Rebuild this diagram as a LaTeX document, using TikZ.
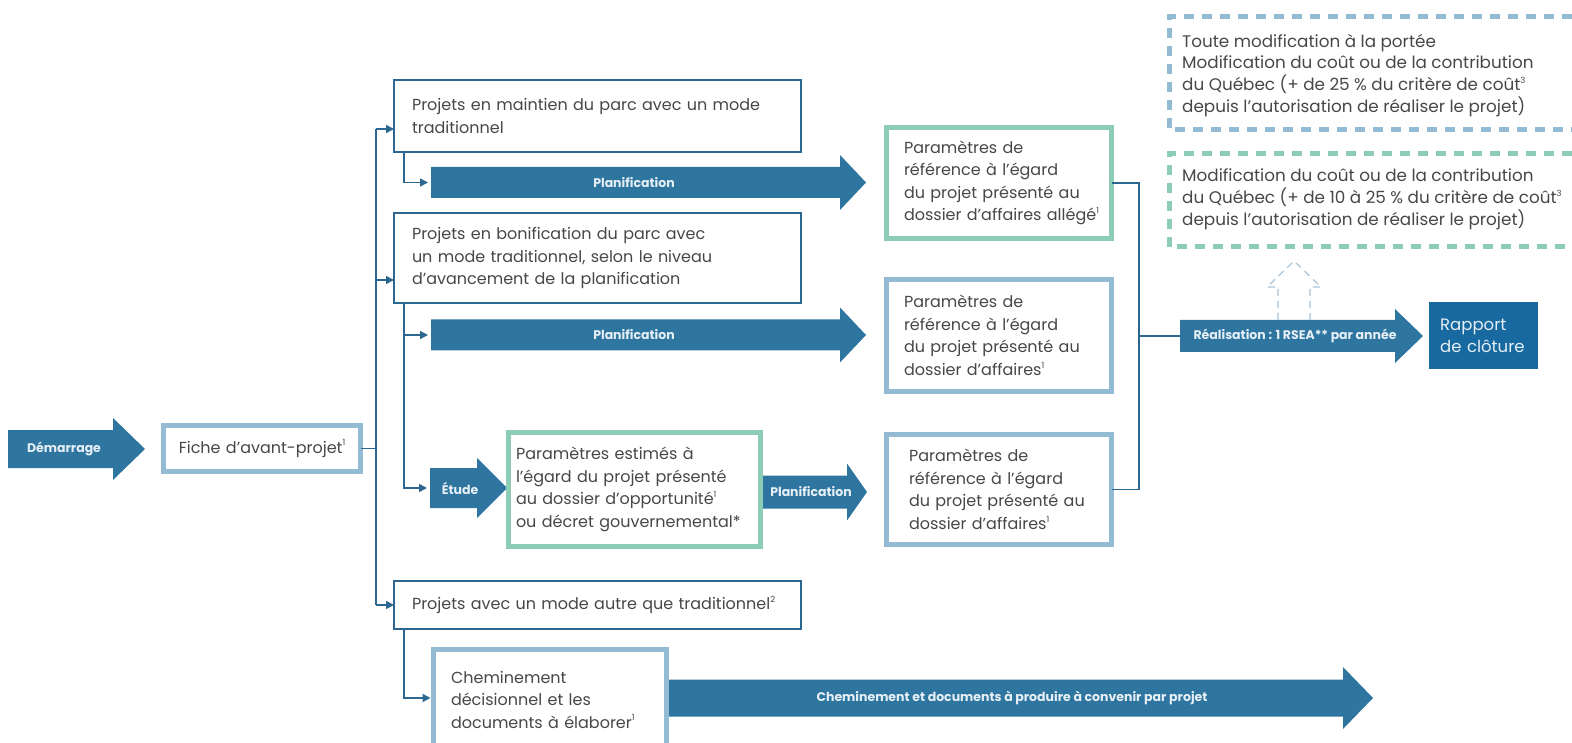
\documentclass[tikz,border=0pt]{standalone}
\usepackage{fontspec}
\setmainfont{Poppins}
\usetikzlibrary{arrows.meta,calc}
\definecolor{arrowblue}{HTML}{2E75A0}
\definecolor{darkbox}{HTML}{17699F}
\definecolor{lineblue}{HTML}{2C6792}
\definecolor{lightblue}{HTML}{93BBD4}
\definecolor{mint}{HTML}{8DCDB5}
\definecolor{txt}{HTML}{474747}
\definecolor{lbl}{HTML}{E6EFF5}
\definecolor{dashup}{HTML}{A9C5DA}
\newcommand{\boxfont}{\fontsize{16}{22.5}\selectfont}
\newcommand{\notefont}{\fontsize{16.8}{21.8}\selectfont}
\newcommand{\lblfont}{\fontsize{12.5}{14}\selectfont\bfseries}
\newcommand{\sups}[1]{\raisebox{0.45em}{\fontsize{8.5}{8.5}\selectfont #1}}
\newcommand{\BigArrow}[9]{%
  \fill[arrowblue] (#2,#5-#6) -- (#3,#5-#6) -- (#3,#5-#7) -- (#4,#5) -- (#3,#5+#7) -- (#3,#5+#6) -- (#2,#5+#6) -- cycle;
  \coordinate (#1-tail) at (#2,#5);
  \coordinate (#1-tip) at (#4,#5);
  \node[arrlabel] (#1) at (#8,#5) {#9};}
\tikzset{
  arrlabel/.style={text=lbl, font=\lblfont, inner sep=0pt},
  conn/.style={draw=lineblue, line width=1.5pt},
  tri/.style={-{Triangle[length=8pt,width=8pt]}},
  thinbox/.style={draw=lineblue, line width=1.3pt, fill=white, anchor=north west, outer sep=0pt,
    inner ysep=0pt, text=txt, font=\boxfont, align=left},
  bluebox/.style={draw=lightblue, line width=5pt, fill=white, anchor=north west, outer sep=0pt,
    inner ysep=0pt, text=txt, font=\boxfont, align=left},
  mintbox/.style={bluebox, draw=mint},
  dashbox/.style={line width=5pt, dash pattern=on 10pt off 8pt},
}
\begin{document}
\begin{tikzpicture}[x=1pt,y=-1pt]
\useasboundingbox (0,0) rectangle (1572,743);
\clip (0,0) rectangle (1572,743);

% big arrows
\BigArrow{dem}{8}{113}{145}{449}{19}{31}{64}{Démarrage}
\BigArrow{p1}{431}{840}{866}{182.5}{15.5}{27.5}{634}{Planification}
\BigArrow{p2}{431}{840}{866}{335}{15.5}{27.5}{634}{Planification}
\BigArrow{etu}{430}{477}{507}{488}{20}{30}{460}{Étude}
\BigArrow{p3}{763}{847}{867}{492}{16.5}{28.5}{811}{Planification}
\BigArrow{real}{1180}{1395}{1423}{336}{16}{27}{1295}{Réalisation : 1 RSEA** par année}
\BigArrow{chem}{669}{1343}{1373}{698}{18.5}{31}{1012}{Cheminement et documents à produire à convenir par projet}

% boxes
\node[bluebox, align=center, minimum width=197pt, minimum height=46pt, text width=185pt, inner xsep=6pt]
  (fiche) at (163.5,425.5) {Fiche d’avant-projet\sups{1}};
\node[thinbox, minimum width=407pt, minimum height=72pt, text width=371pt, inner xsep=18pt]
  (box1) at (394,80) {Projets en maintien du parc avec un mode\\traditionnel};
\node[thinbox, minimum width=407pt, minimum height=90pt, text width=371pt, inner xsep=18pt]
  (box2) at (394,213) {Projets en bonification du parc avec\\un mode traditionnel, selon le niveau\\d’avancement de la planification};
\node[thinbox, minimum width=407pt, minimum height=48pt, text width=371pt, inner xsep=18pt]
  (box3) at (394,581) {Projets avec un mode autre que traditionnel\sups{2}};
\node[mintbox, minimum width=252pt, minimum height=114pt, text width=237pt, inner xsep=7.5pt]
  (est) at (508.5,432.5) {Paramètres estimés à\\l’égard du projet présenté\\au dossier d’opportunité\sups{1}\\ou décret gouvernemental*};
\node[mintbox, minimum width=225pt, minimum height=111pt, text width=190pt, inner xsep=17.5pt]
  (pa) at (886.5,127.5) {Paramètres de\\référence à l’égard\\du projet présenté au\\dossier~d’affaires~allégé\sups{1}};
\node[bluebox, minimum width=225pt, minimum height=112pt, text width=190pt, inner xsep=17.5pt]
  (pb) at (886.5,279.5) {Paramètres de\\référence à l’égard\\du projet présenté au\\dossier d’affaires\sups{1}};
\node[bluebox, minimum width=225pt, minimum height=110pt, text width=180pt, inner xsep=22.5pt]
  (pc) at (886.5,434.5) {Paramètres de\\référence à l’égard\\du~projet~présenté~au\\dossier d’affaires\sups{1}};
\node[bluebox, minimum width=233pt, minimum height=100pt, text width=198pt, inner xsep=17.5pt]
  (chm) at (433.5,649.5) {Cheminement\\décisionnel et les\\documents à élaborer\sups{1}};
\node[fill=darkbox, anchor=north west, minimum width=109pt, minimum height=67pt, text width=87pt,
  inner xsep=11pt, inner ysep=0pt, align=left, text=lbl, font=\fontsize{16.5}{22}\selectfont]
  (rap) at (1429,302) {Rapport\\de~clôture};

% connectors: spine
\coordinate (s1) at (376,129);
\coordinate (s2) at (376,280);
\coordinate (s3) at (376,605);
\draw[conn] (s1) -- (s3);
\draw[conn] (fiche.east) -- (fiche.east -| s1);
\draw[conn,tri] (s1) -- (s1 -| box1.west);
\draw[conn,tri] (s2) -- (s2 -| box2.west);
\draw[conn,tri] (s3) -- (box3.west);

% sub-branches
\coordinate (b1) at ([xshift=10pt]box1.south west);
\coordinate (b2) at ([xshift=10pt]box2.south west);
\coordinate (b3) at ([xshift=10pt]box3.south west);
\draw[conn,tri] (b1) |- ([xshift=-3pt]p1-tail);
\draw[conn,tri] (b2) |- ([xshift=-3pt]etu-tail);
\draw[conn,tri] (b2 |- p2-tail) -- ([xshift=-3pt]p2-tail);
\draw[conn,tri] (b3) |- ([xshift=-3pt]chm.west |- chem-tail);

% right collector
\coordinate (rv) at (1139,336);
\draw[conn] (pa.east) -| (rv) |- (pc.east);
\draw[conn] (rv) -- (real-tail);

% dashed up arrow
\draw[dashup, line width=1.2pt, dash pattern=on 7pt off 5pt]
  (1278,320) -- (1278,287) -- (1267,287) -- (1294,261) -- (1321,287) -- (1310,287) -- (1310,320);

% dashed boxes
\draw[dashbox, draw=lightblue] (1590,17) -- (1169,17) -- (1169,130) -- (1590,130);
\draw[dashbox, draw=mint] (1590,154) -- (1169,154) -- (1169,247) -- (1590,247);
\node[anchor=west, align=left, text=txt, font=\notefont, inner sep=0pt] (n1) at (1182,75.5)
  {Toute modification à la portée\\Modification du coût ou de la contribution\\du Québec (+ de 25 \% du critère de coût\sups{3}\\depuis l’autorisation de réaliser le projet)};
\node[anchor=west, align=left, text=txt, font=\notefont, inner sep=0pt] (n2) at (1182,199.5)
  {Modification du coût ou de la contribution\\du Québec (+ de 10 à 25 \% du critère de coût\sups{3}\\depuis l’autorisation de réaliser le projet)};
\end{tikzpicture}
\end{document}
